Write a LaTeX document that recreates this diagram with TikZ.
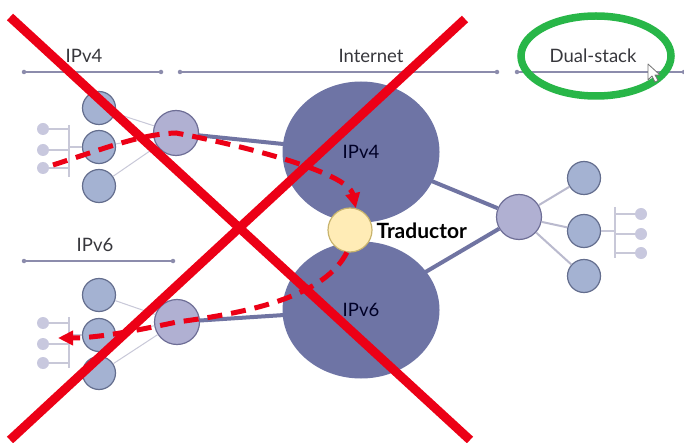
\documentclass[tikz,border=0pt]{standalone}
\usepackage{fontspec}
\setmainfont{Lato}
\usetikzlibrary{shapes.geometric,arrows.meta}
\definecolor{leaffill}{RGB}{164,178,210}
\definecolor{leafedge}{RGB}{100,110,142}
\definecolor{routerfill}{RGB}{176,176,210}
\definecolor{routeredge}{RGB}{110,110,150}
\definecolor{cloudfill}{RGB}{110,116,165}
\definecolor{trunkcol}{RGB}{112,116,162}
\definecolor{thincol}{RGB}{200,200,216}
\definecolor{hostcol}{RGB}{200,200,222}
\definecolor{sectcol}{RGB}{140,140,172}
\definecolor{labelcol}{RGB}{55,55,60}
\definecolor{xred}{RGB}{236,0,22}
\definecolor{ringgreen}{RGB}{40,182,72}
\definecolor{trfill}{RGB}{255,236,182}
\definecolor{tredge}{RGB}{200,180,110}
\tikzset{
  sectline/.style={draw=sectcol, line width=1.1pt},
  sectdot/.style={circle, fill=sectcol, minimum size=4.5pt, inner sep=0pt},
  seclabel/.style={text=labelcol, font=\fontsize{18.5}{20}\selectfont},
  leaf/.style={circle, fill=leaffill, draw=leafedge, line width=1.2pt, minimum size=33pt, inner sep=0pt},
  router/.style={circle, fill=routerfill, draw=routeredge, line width=1.2pt, minimum size=45pt, inner sep=0pt},
  hostdot/.style={circle, fill=hostcol, minimum size=12pt, inner sep=0pt},
  cloud/.style={ellipse, fill=cloudfill, minimum width=157pt, minimum height=141pt, inner sep=0pt,
    text=black!85!blue, font=\fontsize{18.5}{20}\selectfont},
  thinlink/.style={draw=thincol, line width=1pt},
  lanline/.style={draw=thincol, line width=1.3pt},
  sidelink/.style={draw=thincol!85!routeredge, line width=2pt},
  trunk/.style={draw=trunkcol, line width=4pt},
  trans/.style={circle, fill=trfill, draw=tredge, line width=1.2pt, minimum size=44pt, inner sep=0pt},
  redflow/.style={draw=xred, line width=5pt, dash pattern=on 15pt off 9pt,
    -{Triangle[length=15pt,width=14pt]}},
  redcross/.style={draw=xred, line width=9pt},
}
\begin{document}
\begin{tikzpicture}[x=1pt, y=-1pt]
\useasboundingbox[fill=white] (0,0) rectangle (684,443);

% section rulers
\node[sectdot] (s4a) at (24,72) {};
\node[sectdot] (s4b) at (161,72) {};
\node[sectdot] (sia) at (180,72) {};
\node[sectdot] (sib) at (497,72) {};
\node[sectdot] (sda) at (517,72) {};
\node[sectdot] (sdb) at (684,72) {};
\draw[sectline] (s4a) -- (s4b);
\draw[sectline] (sia) -- (sib);
\draw[sectline] (sda) -- (sdb);
\node[sectdot] (s6a) at (24,261) {};
\node[sectdot] (s6b) at (173,261) {};
\draw[sectline] (s6a) -- (s6b);

\node[seclabel] (l4) at (84,56) {IPv4};
\node[seclabel] (li) at (371,56) {Internet};
\node[seclabel] (ld) at (593,56) {Dual-stack};
\node[seclabel] (l6) at (95,245) {IPv6};

% IPv4 site
\node[hostdot] (h41) at (43,129) {};
\node[hostdot] (h42) at (43,150) {};
\node[hostdot] (h43) at (43,168) {};
\coordinate (b4t) at (69,125);
\coordinate (b4b) at (69,177);
\draw[lanline] (b4t) -- (b4b);
\draw[lanline] (h41) -- (h41 -| b4t);
\draw[lanline] (h42) -- (h42 -| b4t);
\draw[lanline] (h43) -- (h43 -| b4t);
\node[leaf] (c41) at (99,108) {};
\node[leaf] (c42) at (99,147) {};
\node[leaf] (c43) at (99,186) {};
\draw[lanline] (c42.west) -- (c42.west -| b4t);
\node[router] (r4) at (176,133) {};
\draw[thinlink] (r4) -- (c41);
\draw[thinlink] (r4) -- (c42);
\draw[thinlink] (r4) -- (c43);

% IPv6 site
\node[hostdot] (h61) at (43,323) {};
\node[hostdot] (h62) at (43,344) {};
\node[hostdot] (h63) at (43,363) {};
\coordinate (b6t) at (69,317);
\coordinate (b6b) at (69,368);
\draw[lanline] (b6t) -- (b6b);
\draw[lanline] (h61) -- (h61 -| b6t);
\draw[lanline] (h62) -- (h62 -| b6t);
\draw[lanline] (h63) -- (h63 -| b6t);
\node[leaf] (c61) at (99,295) {};
\node[leaf] (c62) at (99,335) {};
\node[leaf] (c63) at (99,373) {};
\draw[lanline] (c62.west) -- (c62.west -| b6t);
\node[router] (r6) at (177,322) {};
\draw[thinlink] (r6) -- (c61);
\draw[thinlink] (r6) -- (c62);
\draw[thinlink] (r6) -- (c63);

% dual-stack site
\node[router] (rd) at (519,217) {};
\node[leaf] (cd1) at (584,178) {};
\node[leaf] (cd2) at (584,231) {};
\node[leaf] (cd3) at (584,276) {};
\draw[sidelink] (rd) -- (cd1);
\draw[sidelink] (rd) -- (cd2);
\draw[sidelink] (rd) -- (cd3);
\coordinate (bdt) at (615,207);
\coordinate (bdb) at (615,258);
\node[hostdot] (hd1) at (641,214) {};
\node[hostdot] (hd2) at (641,234) {};
\node[hostdot] (hd3) at (641,253) {};
\draw[lanline] (bdt) -- (bdb);
\draw[lanline] (hd1) -- (hd1 -| bdt);
\draw[lanline] (hd2) -- (hd2 -| bdt);
\draw[lanline] (hd3) -- (hd3 -| bdt);
\draw[lanline] (cd2.east) -- (cd2.east -| bdt);

% internet clouds and trunks
\coordinate (k4) at (361,152);
\coordinate (k6) at (361,310);
\draw[trunk] (r4) -- (k4);
\draw[trunk] (r6) -- (k6);
\draw[trunk] (rd) -- (k4);
\draw[trunk] (rd) -- (k6);
\node[cloud] (ip4) at (k4) {IPv4};
\node[cloud, minimum height=137pt] (ip6) at (k6) {IPv6};
\node[trans] (tr) at (350,230) {};
\node[anchor=west, font=\bfseries\fontsize{21}{22}\selectfont] (trl) at (373,231) {Traductor};

% translated flows
\coordinate (f4) at (53,165);
\coordinate (f6) at (58,338);
\draw[redflow] (f4) .. controls (100,150) and (140,134) .. (r4.center)
  .. controls (240,145) and (348,172) .. (tr.75);
\draw[redflow] (tr.262) .. controls (325,295) and (255,312) .. (r6.center)
  .. controls (130,332) and (95,338) .. (f6);

% crossing-out
\draw[redcross] (10,17) -- (470,440);
\draw[redcross] (465,19) -- (10,440);

% highlight ring
\draw[draw=ringgreen, line width=7.5pt] (596,56) ellipse [x radius=75, y radius=40];

% pointer
\draw[draw=black!55, fill=white, line width=0.8pt, line join=round]
  (648,64) -- (648,80) -- (652,76) -- (655,82) -- (658,80.5) -- (655,75) -- (660,75) -- cycle;
\end{tikzpicture}
\end{document}
